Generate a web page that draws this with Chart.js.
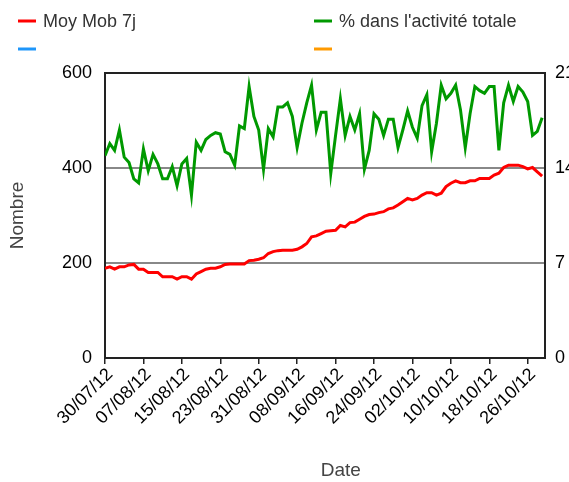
<!DOCTYPE html>
<html>
<head>
<meta charset="utf-8">
<script src="https://cdn.jsdelivr.net/npm/chart.js@4.4.1/dist/chart.umd.min.js"></script>
<style>
  html, body { margin: 0; padding: 0; background: #fff; overflow: hidden; }
  #wrap { width: 569px; height: 482px; }
</style>
</head>
<body>
<div id="wrap"><canvas id="myChart" width="569" height="482"></canvas></div>
<script>
// ticks of the date axis, one every 8 days from 30/07/12
const tickLabels = ['30/07/12', '07/08/12', '15/08/12', '23/08/12', '31/08/12', '08/09/12',
  '16/09/12', '24/09/12', '02/10/12', '10/10/12', '18/10/12', '26/10/12'];

// Moy Mob 7j (axe de gauche, Nombre), un point par jour
const moyMob7j = [
  189, 192, 187, 192, 192, 196, 197, 187, 187, 180,
  180, 180, 171, 171, 171, 166, 171, 171, 166, 177,
  182, 187, 189, 189, 192, 197, 198, 198, 198, 198,
  205, 206, 208, 211, 220, 224, 226, 227, 227, 227,
  229, 234, 241, 255, 257, 262, 267, 268, 269, 279,
  276, 285, 286, 292, 298, 302, 303, 306, 308, 314,
  316, 322, 329, 336, 333, 336, 343, 348, 348, 343,
  347, 361, 368, 373, 369, 369, 373, 373, 378, 378,
  378, 385, 389, 401, 406, 406, 406, 403, 398, 401,
  392, 383
];

// % dans l'activité totale (axe de droite)
const pctActivite = [
  14.9, 15.8, 15.3, 16.8, 14.8, 14.4, 13.2, 12.9, 15.4, 13.8,
  15.0, 14.3, 13.2, 13.2, 14.1, 12.7, 14.3, 14.7, 12.0, 15.9,
  15.3, 16.1, 16.4, 16.6, 16.5, 15.2, 15.0, 14.2, 17.1, 16.9,
  20.0, 17.8, 16.8, 13.9, 16.9, 16.3, 18.5, 18.5, 18.8, 17.8,
  15.5, 17.3, 18.8, 20.1, 16.8, 18.1, 18.1, 13.6, 16.4, 19.1,
  16.4, 17.8, 16.8, 18.0, 13.9, 15.3, 18.0, 17.6, 16.4, 17.6,
  17.6, 15.5, 16.8, 18.2, 17.0, 16.2, 18.6, 19.4, 15.2, 17.3,
  20.1, 19.1, 19.5, 20.1, 18.3, 15.5, 18.0, 20.0, 19.7, 19.5,
  20.0, 20.0, 15.3, 18.8, 20.1, 18.9, 20.0, 19.6, 18.9, 16.4,
  16.7, 17.7
];

const FONT = "'Liberation Sans', Arial, sans-serif";
const DAYS_PER_TICK = 8;

const toPoints = arr => arr.map((v, i) => ({ x: i, y: v }));

// legende sur deux colonnes, dessinee a la main
const legendPlugin = {
  id: 'legendGrid',
  afterDraw(chart) {
    const ctx = chart.ctx;
    const cols = [18, 314];
    const rows = [21, 49];
    ctx.save();
    ctx.font = '18px ' + FONT;
    ctx.textBaseline = 'middle';
    chart.data.datasets.forEach((ds, i) => {
      const x = cols[i % 2];
      const y = rows[Math.floor(i / 2)];
      ctx.strokeStyle = ds.borderColor;
      ctx.lineWidth = 3;
      ctx.beginPath();
      ctx.moveTo(x, y);
      ctx.lineTo(x + 18, y);
      ctx.stroke();
      ctx.fillStyle = '#333';
      ctx.fillText(ds.label, x + 25, y + 1);
    });
    ctx.restore();
  }
};

const ctx = document.getElementById('myChart').getContext('2d');
new Chart(ctx, {
  type: 'line',
  data: {
    datasets: [
      { label: 'Moy Mob 7j', data: toPoints(moyMob7j), borderColor: '#ff0000', yAxisID: 'y' },
      { label: "% dans l'activité totale", data: toPoints(pctActivite), borderColor: '#009900', yAxisID: 'y1' },
      { label: '', data: [], borderColor: '#1e96fa', yAxisID: 'y' },
      { label: '', data: [], borderColor: '#ff9a00', yAxisID: 'y' }
    ]
  },
  options: {
    responsive: false,
    animation: false,
    layout: { padding: { top: 73, left: 0, right: 0, bottom: 0 } },
    elements: {
      point: { radius: 0 },
      line: { borderWidth: 3, tension: 0 }
    },
    plugins: {
      legend: { display: false },
      tooltip: { enabled: false }
    },
    scales: {
      x: {
        type: 'linear',
        min: 0,
        max: 91.6,
        afterBuildTicks: s => { s.ticks = tickLabels.map((_, i) => ({ value: i * DAYS_PER_TICK })); },
        afterFit: s => { s.height = 124; },
        ticks: {
          autoSkip: false,
          maxRotation: 45,
          minRotation: 45,
          padding: 0,
          labelOffset: 5,
          color: '#000',
          font: { family: FONT, size: 18 },
          callback: v => tickLabels[Math.round(v / DAYS_PER_TICK)]
        },
        grid: { drawOnChartArea: false, drawTicks: true, tickLength: 6, color: '#222', lineWidth: 1.5 },
        border: { color: '#222', width: 2 },
        title: {
          display: true,
          text: '      Date',
          color: '#444',
          font: { family: FONT, size: 19 },
          padding: { top: 0, bottom: 0 }
        }
      },
      y: {
        position: 'left',
        min: 0,
        max: 600,
        afterFit: s => { s.width = 105; },
        ticks: { stepSize: 200, padding: 13, color: '#000', font: { family: FONT, size: 18 } },
        grid: {
          drawTicks: false,
          lineWidth: 2,
          color: c => {
            const v = c.tick.value;
            if (v === 200 || v === 400) return '#888';
            if (v === 600) return '#222';
            return 'transparent';
          }
        },
        border: { color: '#222', width: 2 },
        title: {
          display: true,
          text: 'Nombre',
          color: '#444',
          font: { family: FONT, size: 19 },
          padding: { top: 6, bottom: 0 }
        }
      },
      y1: {
        position: 'right',
        min: 0,
        max: 21,
        afterFit: s => { s.width = 24; },
        ticks: { stepSize: 7, padding: 10, color: '#000', font: { family: FONT, size: 18 } },
        grid: { drawOnChartArea: false, drawTicks: false },
        border: { color: '#222', width: 2 }
      }
    }
  },
  plugins: [legendPlugin]
});
</script>
</body>
</html>
